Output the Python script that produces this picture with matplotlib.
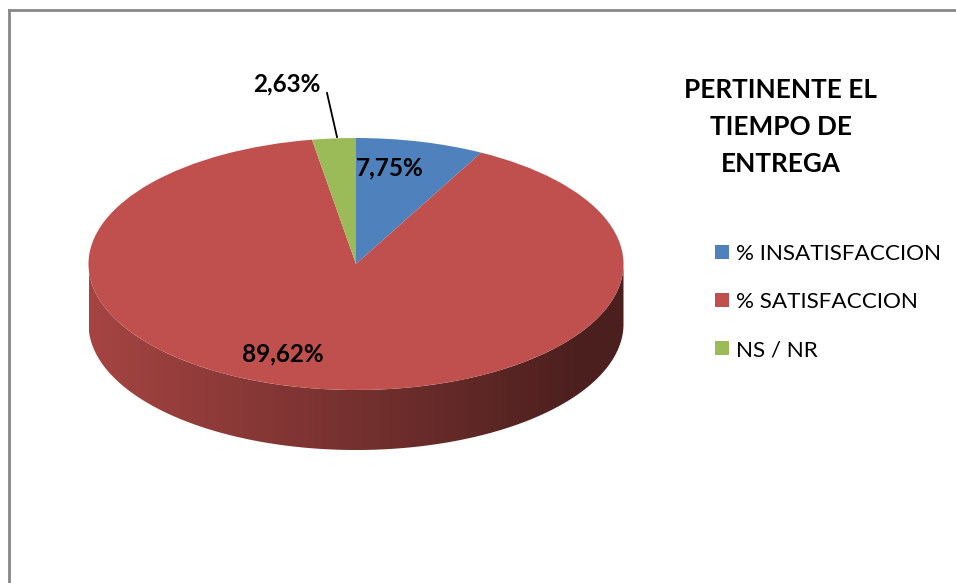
import numpy as np
import matplotlib
matplotlib.use("Agg")
import matplotlib.pyplot as plt
from matplotlib.patches import Polygon
from matplotlib.lines import Line2D

plt.rcParams['font.family'] = ['Lato', 'DejaVu Sans']

# data
labels = ['% INSATISFACCION', '% SATISFACCION', 'NS / NR']
values = [7.75, 89.62, 2.63]
pct_text = ['7,75%', '89,62%', '2,63%']
colors = ['#4F81BD', '#C0504D', '#9BBB59']
title = 'PERTINENTE EL\nTIEMPO DE\nENTREGA'

W, H = 956, 583
fig = plt.figure(figsize=(W / 100, H / 100), dpi=100)
ax = fig.add_axes([0, 0, 1, 1])

# ellipse geometry in pixels: centre, radii, thickness
cx, cy, rx, ry, depth_px = 356, 264, 267.5, 126, 60
depth = depth_px / ry

wedges, _ = ax.pie(values, colors=colors, startangle=90, counterclock=False,
                   radius=1, center=(0, 0), wedgeprops=dict(linewidth=0))
for w in wedges:
    w.set_zorder(3)
ax.set_aspect('auto')
ax.axis('off')

# side wall of the 3d pie (front half only) with shading
gx = np.linspace(-1, 1, 400)
shade = np.interp(gx, [-1, 0.85, 1], [0.86, 0.39, 0.39])
for w in wedges:
    t1, t2 = w.theta1, w.theta2
    base = np.array(w.get_facecolor()[:3])
    for k in (-1, 0, 1):
        a = max(t1, 180 + 360 * k)
        b = min(t2, 360 + 360 * k)
        if b <= a:
            continue
        t = np.radians(np.linspace(a, b, 200))
        top = np.column_stack([np.cos(t), np.sin(t)])
        bot = np.column_stack([np.cos(t), np.sin(t) - depth])[::-1]
        poly = Polygon(np.vstack([top, bot]), closed=True, facecolor='none',
                       edgecolor='none')
        ax.add_patch(poly)
        img = (base[None, None, :] * shade[None, :, None])
        im = ax.imshow(img, extent=(-1, 1, -1 - depth, 0), aspect='auto',
                       origin='lower', zorder=2, interpolation='bilinear')
        im.set_clip_path(poly)

ax.set_xlim(-cx / rx, (W - cx) / rx)
ax.set_ylim(-(H - cy) / ry, cy / ry)


def px(x, y):
    return (x - cx) / rx, (cy - y) / ry


# value labels
ax.text(*px(390, 168), pct_text[0], ha='center', va='center',
        fontsize=17.5, fontweight='bold', zorder=5)
ax.text(*px(283, 354), pct_text[1], ha='center', va='center',
        fontsize=17.5, fontweight='bold', zorder=5)
ax.text(*px(287, 84), pct_text[2], ha='center', va='center',
        fontsize=17.5, fontweight='bold', zorder=5)
x0, y0 = px(327, 93)
x1, y1 = px(337, 137)
ax.plot([x0, x1], [y0, y1], color='black', lw=1.3, zorder=5)

# title
fig.text(781 / W, 1 - 127 / H, title, ha='center', va='center',
         fontsize=18.8, fontweight='bold', linespacing=1.66)

# legend
fig.legend(wedges, labels, loc='center left',
           bbox_to_anchor=(715 / W, 1 - 302 / H), frameon=False,
           fontsize=16.2, handlelength=0.62, handleheight=0.62,
           handletextpad=0.3, labelspacing=1.25, borderpad=0,
           borderaxespad=0)

# chart area border (only top and left visible)
fig.add_artist(Line2D([9 / W, 1], [1 - 10 / H] * 2, color='#888888', lw=2,
                      transform=fig.transFigure))
fig.add_artist(Line2D([9 / W] * 2, [0, 1 - 10 / H], color='#888888', lw=2,
                      transform=fig.transFigure))

fig.savefig('out.png', dpi=100)
